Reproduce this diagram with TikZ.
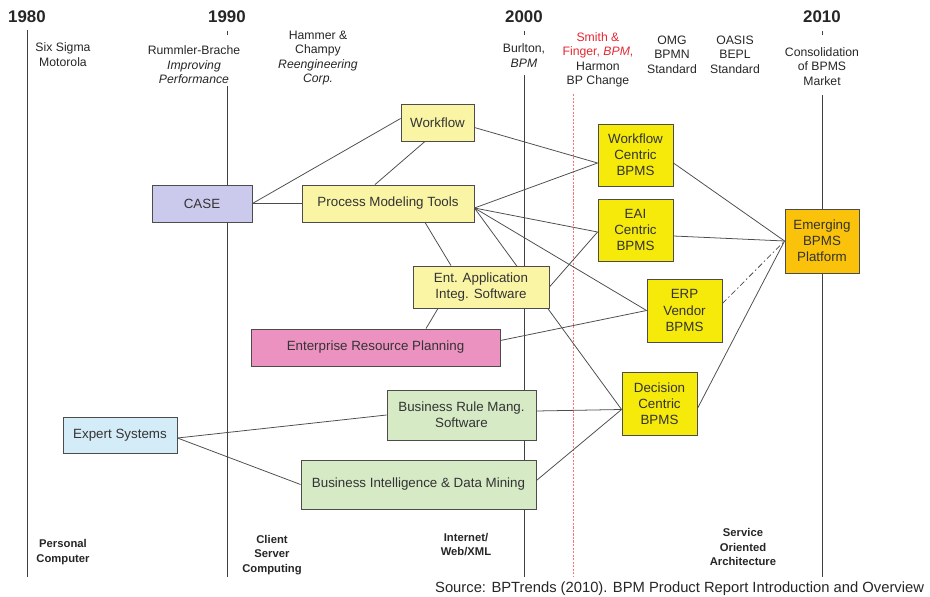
\documentclass[tikz,border=0pt]{standalone}
\usepackage{fontspec}
\setmainfont{Liberation Sans}
\usetikzlibrary{calc,positioning}
\pgfdeclarelayer{background}
\pgfsetlayers{background,main}

\definecolor{caseblue}{RGB}{204,202,236}
\definecolor{paleyellow}{RGB}{250,245,165}
\definecolor{bpmsyellow}{RGB}{246,234,10}
\definecolor{platorange}{RGB}{250,194,10}
\definecolor{erppink}{RGB}{236,146,192}
\definecolor{expertblue}{RGB}{212,236,248}
\definecolor{rulegreen}{RGB}{214,234,198}
\definecolor{smithred}{RGB}{228,40,50}

\tikzset{
  box/.style={draw=black!70, line width=0.6pt, align=center, text=black!80,
    font=\fontsize{9.5}{11.5}\selectfont, inner sep=1pt},
  hdr/.style={align=center, font=\fontsize{8.7}{10.3}\selectfont, text=black!85},
  era/.style={align=center, font=\bfseries\fontsize{8}{10.3}\selectfont, text=black!85},
  year/.style={font=\bfseries\fontsize{12}{14}\selectfont, text=black!85},
  link/.style={black!70, line width=0.55pt},
  epoch/.style={black!75, line width=0.6pt}
}

\begin{document}
\begin{tikzpicture}[x=0.025cm, y=-0.025cm]
    \useasboundingbox (0,0) rectangle (930,597);

    % Years and milestones
    \node[year] (y1980) at (27,17) {1980};
    \node[year] (y1990) at (227,17) {1990};
    \node[year] (y2000) at (524,17) {2000};
    \node[year] (y2010) at (822,17) {2010};
    \node[hdr] (sixsigma) at (63,54.5) {Six Sigma\\Motorola};
    \node[hdr] (rummler) at (194,65) {Rummler-Brache\\\textit{Improving}\\\textit{Performance}};
    \node[hdr] (hammer) at (318,58) {Hammer \&\\Champy\\\textit{Reengineering}\\\textit{Corp.}};
    \node[hdr] (burlton) at (524,55.5) {Burlton,\\\textit{BPM}};
    \node[hdr] (smith) at (598,60) {\textcolor{smithred}{Smith \&}\\\textcolor{smithred}{Finger, \textit{BPM},}\\Harmon\\BP Change};
    \node[hdr] (omg) at (672,54.5) {OMG\\BPMN\\Standard};
    \node[hdr] (oasis) at (735,54.5) {OASIS\\BEPL\\Standard};
    \node[hdr] (consol) at (822,66.5) {Consolidation\\of BPMS\\Market};

    % Technology eras
    \node[era] (pc) at (63,552) {Personal\\Computer};
    \node[era] (client) at (272,555) {Client\\Server\\Computing};
    \node[era] (internet) at (466,544.5) {Internet/\\Web/XML};
    \node[era] (soa) at (743,547) {Service\\Oriented\\Architecture};
    \node[anchor=east, font=\fontsize{10.5}{12}\selectfont, text=black!85] (source) at (929,589)
        {Source: BPTrends (2010). BPM Product Report Introduction and Overview};

    % Tool boxes
    \node[box, fill=paleyellow, minimum width=1.825cm, minimum height=0.925cm] (workflow) at (437.5,122.5) {Workflow};
    \node[box, fill=caseblue, minimum width=2.5cm, minimum height=0.925cm] (case) at (202,203.5) {CASE};
    \node[box, fill=paleyellow, minimum width=4.3cm, minimum height=0.925cm] (pmt) at (388,203.5) {Process Modeling Tools};
    \node[box, fill=paleyellow, minimum width=3.4cm, minimum height=1.05cm] (eais) at (481,287) {Ent. Application\\Integ. Software};
    \node[box, fill=erppink, minimum width=6.225cm, minimum height=0.925cm] (erp) at (375.5,347.5) {Enterprise Resource Planning};
    \node[box, fill=expertblue, minimum width=2.85cm, minimum height=0.9cm] (expert) at (120,435) {Expert Systems};
    \node[box, fill=rulegreen, minimum width=3.725cm, minimum height=1.25cm] (brm) at (461.5,415) {Business Rule Mang.\\Software};
    \node[box, fill=rulegreen, minimum width=5.875cm, minimum height=1.225cm] (bi) at (418.5,484.5) {Business Intelligence \& Data Mining};

    % BPMS boxes
    \node[box, fill=bpmsyellow, minimum width=1.875cm, minimum height=1.55cm] (wfc) at (635.5,155) {Workflow\\Centric\\BPMS};
    \node[box, fill=bpmsyellow, minimum width=1.875cm, minimum height=1.55cm] (eai) at (635.5,230) {EAI\\Centric\\BPMS};
    \node[box, fill=bpmsyellow, minimum width=1.875cm, minimum height=1.575cm] (erpv) at (684.5,310.5) {ERP\\Vendor\\BPMS};
    \node[box, fill=bpmsyellow, minimum width=1.875cm, minimum height=1.575cm] (dec) at (659.5,403.5) {Decision\\Centric\\BPMS};
    \node[box, fill=platorange, minimum width=1.85cm, minimum height=1.6cm] (emerg) at (822,241) {Emerging\\BPMS\\Platform};

    \begin{pgfonlayer}{background}
        % Time lines
        \draw[epoch] (27,30) -- (27,577);
        \foreach \tx/\ty in {227/86, 524/75, 822/95} {
            \draw[epoch] (\tx,31) -- (\tx,35);
            \draw[epoch] (\tx,\ty) -- (\tx,577);
        }
        \draw[red!55, line width=0.55pt, dash pattern=on 1.5pt off 1pt] (573,94) -- (573,577);

        % Connection points
        \coordinate (pmt-out) at ($(pmt.east)+(0,4.5)$);
        \coordinate (wfc-in) at ($(wfc.west)+(0,8)$);
        \coordinate (eai-in) at ($(eai.west)+(0,2)$);
        \coordinate (dec-in) at ($(dec.west)+(0,6)$);
        \coordinate (exp-out) at ($(expert.east)+(0,3)$);

        % Links
        \draw[link] (case.east) -- ($(workflow.west)+(0,-4)$);
        \draw[link] (case.east) -- (pmt.west);
        \draw[link] ($(workflow.south)+(-12.5,0)$) -- ($(pmt.north)+(-13,0)$);
        \draw[link] ($(workflow.east)+(0,5)$) -- (wfc-in);
        \draw[link] (pmt-out) -- (wfc-in);
        \draw[link] (pmt-out) -- (eai-in);
        \draw[link] (pmt-out) -- (erpv.west);
        \draw[link] (pmt-out) -- (dec-in);
        \draw[link] ($(pmt.south)+(37,0)$) -- ($(eais.north)+(-30,0)$);
        \draw[link] ($(eais.south)+(-43,0)$) -- ($(erp.north)+(50.5,0)$);
        \draw[link] (eais.east) -- (eai-in);
        \draw[link] ($(erp.east)+(0,-7)$) -- (erpv.west);
        \draw[link] (exp-out) -- (brm.west);
        \draw[link] (exp-out) -- (bi.west);
        \draw[link] ($(brm.east)+(0,-4)$) -- (dec-in);
        \draw[link] ($(bi.east)+(0,-4)$) -- (dec-in);
        \draw[link] ($(wfc.east)+(0,8)$) -- (emerg.west);
        \draw[link] ($(eai.east)+(0,6)$) -- (emerg.west);
        \draw[link, dash pattern=on 4pt off 2pt on 1pt off 2pt] ($(erpv.east)+(0,-7)$) -- (emerg.west);
        \draw[link] ($(dec.east)+(0,5)$) -- (emerg.west);
    \end{pgfonlayer}
\end{tikzpicture}
\end{document}
